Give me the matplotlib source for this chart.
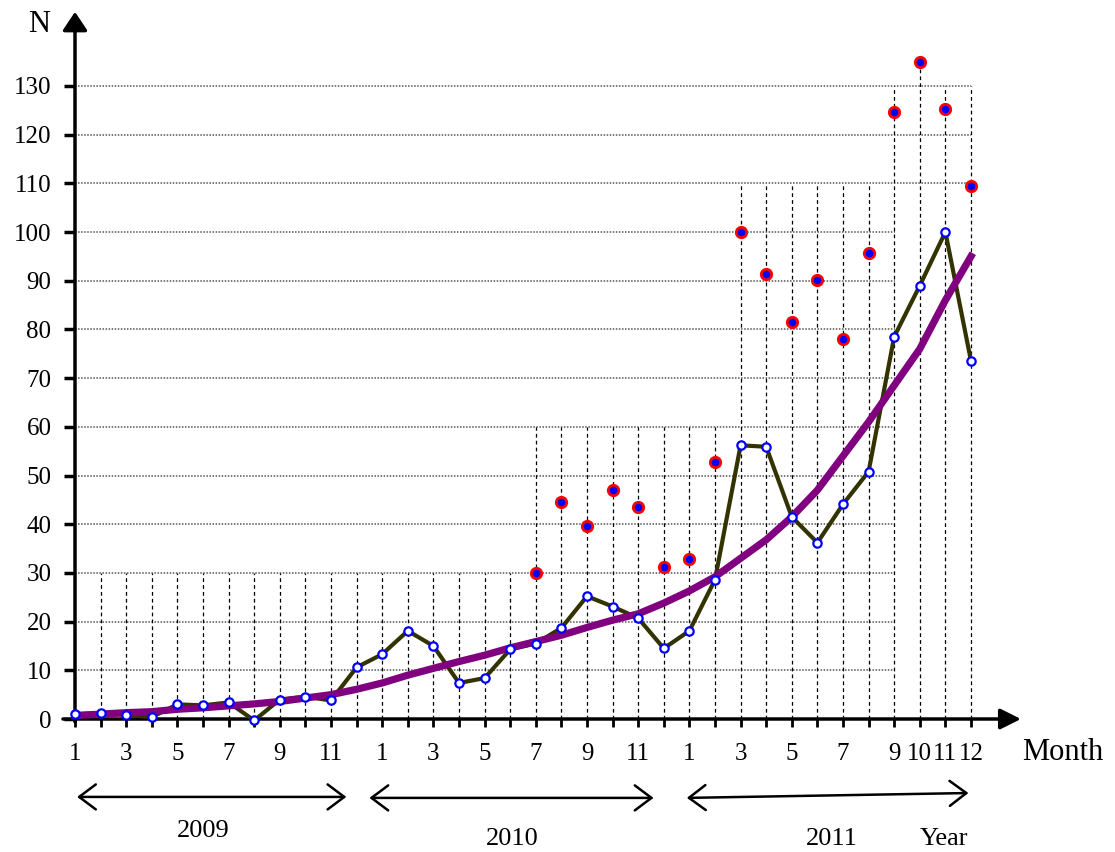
import numpy as np
import matplotlib.pyplot as plt

plt.rcParams['font.family'] = ['Liberation Serif', 'DejaVu Serif']

# months Jan 2009 .. Dec 2011 (index 0..35)
months = np.arange(36)
month_labels = ['1', '', '3', '', '5', '', '7', '', '9', '', '11', '',
                '1', '', '3', '', '5', '', '7', '', '9', '', '11', '',
                '1', '', '3', '', '5', '', '7', '', '9', '10', '11', '12']
years = ['2009', '2010', '2011']
y_ticks = np.arange(0, 131, 10)

# observed N per month
n_observed = [1.0, 1.2, 0.8, 0.4, 3.0, 2.8, 3.4, -0.3, 4.0, 4.6, 3.8, 10.6,
              13.3, 18.1, 15.0, 7.4, 8.4, 14.3, 15.5, 18.7, 25.2, 23.1, 20.7, 14.5,
              18.1, 28.6, 56.2, 55.9, 41.5, 36.2, 44.1, 50.8, 78.5, 89.0, 100.0, 73.5]

# upper values (red dots), from Jul 2010
upper_start = 18
n_upper = [30.0, 44.6, 39.7, 47.0, 43.6, 31.3,
           32.9, 52.8, 100.0, 91.4, 81.6, 90.2, 78.0, 95.7, 124.6, 135.0, 125.2, 109.5]

# trend curve (purple) read per month
trend = [0.7, 1.0, 1.3, 1.5, 2.0, 2.3, 2.7, 3.1, 3.6, 4.3, 5.0, 6.1,
         7.4, 9.0, 10.4, 11.8, 13.1, 14.6, 15.9, 17.2, 18.8, 20.3, 21.6, 23.8,
         26.3, 29.2, 33.0, 36.8, 41.5, 47.0, 54.0, 61.0, 68.5, 76.0, 86.0, 95.0]

fig = plt.figure(figsize=(11.15, 8.52), dpi=100)
ax = fig.add_axes([0, 0, 1, 1])
ax.set_xlim(-2.93, 40.625)
ax.set_ylim(-27.31, 147.64)

for side in ['top', 'right']:
    ax.spines[side].set_visible(False)
for side in ['left', 'bottom']:
    ax.spines[side].set_position(('data', 0))
    ax.spines[side].set_visible(False)

ax.set_xticks(months)
ax.set_xticklabels(month_labels, fontsize=18)
ax.set_yticks(y_ticks)
ax.set_yticklabels([str(v) for v in y_ticks], fontsize=18)
ax.tick_params(axis='x', length=6, width=2, pad=11)
ax.tick_params(axis='y', length=8, width=2.5, pad=9)

# horizontal grid
for v in y_ticks[1:]:
    right = 32.05 if v <= 100 else 35
    ax.plot([0, right], [v, v], ls=(0, (1, 1)), color='#555555', lw=1.1, zorder=1)

# vertical grid, stepped heights
for i in months[1:]:
    if i < 18:
        top = 30
    elif i < 26:
        top = 60
    elif i < 32:
        top = 110
    elif i == 33:
        top = n_upper[i - upper_start]
    else:
        top = 130
    ax.plot([i, i], [0, top], ls=(0, (3, 2.5)), color='black', lw=0.9, zorder=1)

# axes with arrows
ax.annotate('', xy=(36.95, 0), xytext=(-0.47, 0), annotation_clip=False,
            arrowprops=dict(arrowstyle='-|>,head_length=0.5,head_width=0.25',
                            color='black', lw=2.5, mutation_scale=25, shrinkA=0, shrinkB=0))
ax.annotate('', xy=(0, 145.2), xytext=(0, -0.6), annotation_clip=False,
            arrowprops=dict(arrowstyle='-|>,head_length=0.45,head_width=0.3',
                            color='black', lw=2.5, mutation_scale=25, shrinkA=0, shrinkB=0))

# series
ax.plot(months, n_observed, color='#333300', lw=3, zorder=3)
ax.plot(months, trend, color='#800080', lw=5.2, zorder=4)
ax.plot(months, n_observed, 'o', ls='none', ms=6, mfc='white', mec='blue', mew=1.6, zorder=5)
ax.plot(months[upper_start:], n_upper, 'o', ls='none', ms=7.5, mfc='blue', mec='red', mew=2, zorder=6)

# labels
ax.text(-1.41, 142.7, 'N', fontsize=22, ha='center', va='center')
ax.text(36.99, -6.9, 'Month', fontsize=22, ha='left', va='center')

year_spans = [(0.08, 10.6, -16.0, -16.0), (11.5, 22.6, -16.2, -16.2), (23.9, 34.9, -16.2, -15.2)]
year_text = [(5.0, -23.0), (17.07, -24.6), (29.57, -24.6)]
for (x0, x1, y0, y1), (tx, ty), yr in zip(year_spans, year_text, years):
    ax.annotate('', xy=(x1, y1), xytext=(x0, y0), annotation_clip=False,
                arrowprops=dict(arrowstyle='<->,head_length=0.6,head_width=0.45',
                                color='black', lw=1.8, mutation_scale=20, shrinkA=0, shrinkB=0))
    ax.text(tx, ty, yr, fontsize=19, ha='center', va='center')
ax.text(33.95, -24.6, 'Year', fontsize=19, ha='center', va='center')

fig.savefig('out.png', dpi=100)
